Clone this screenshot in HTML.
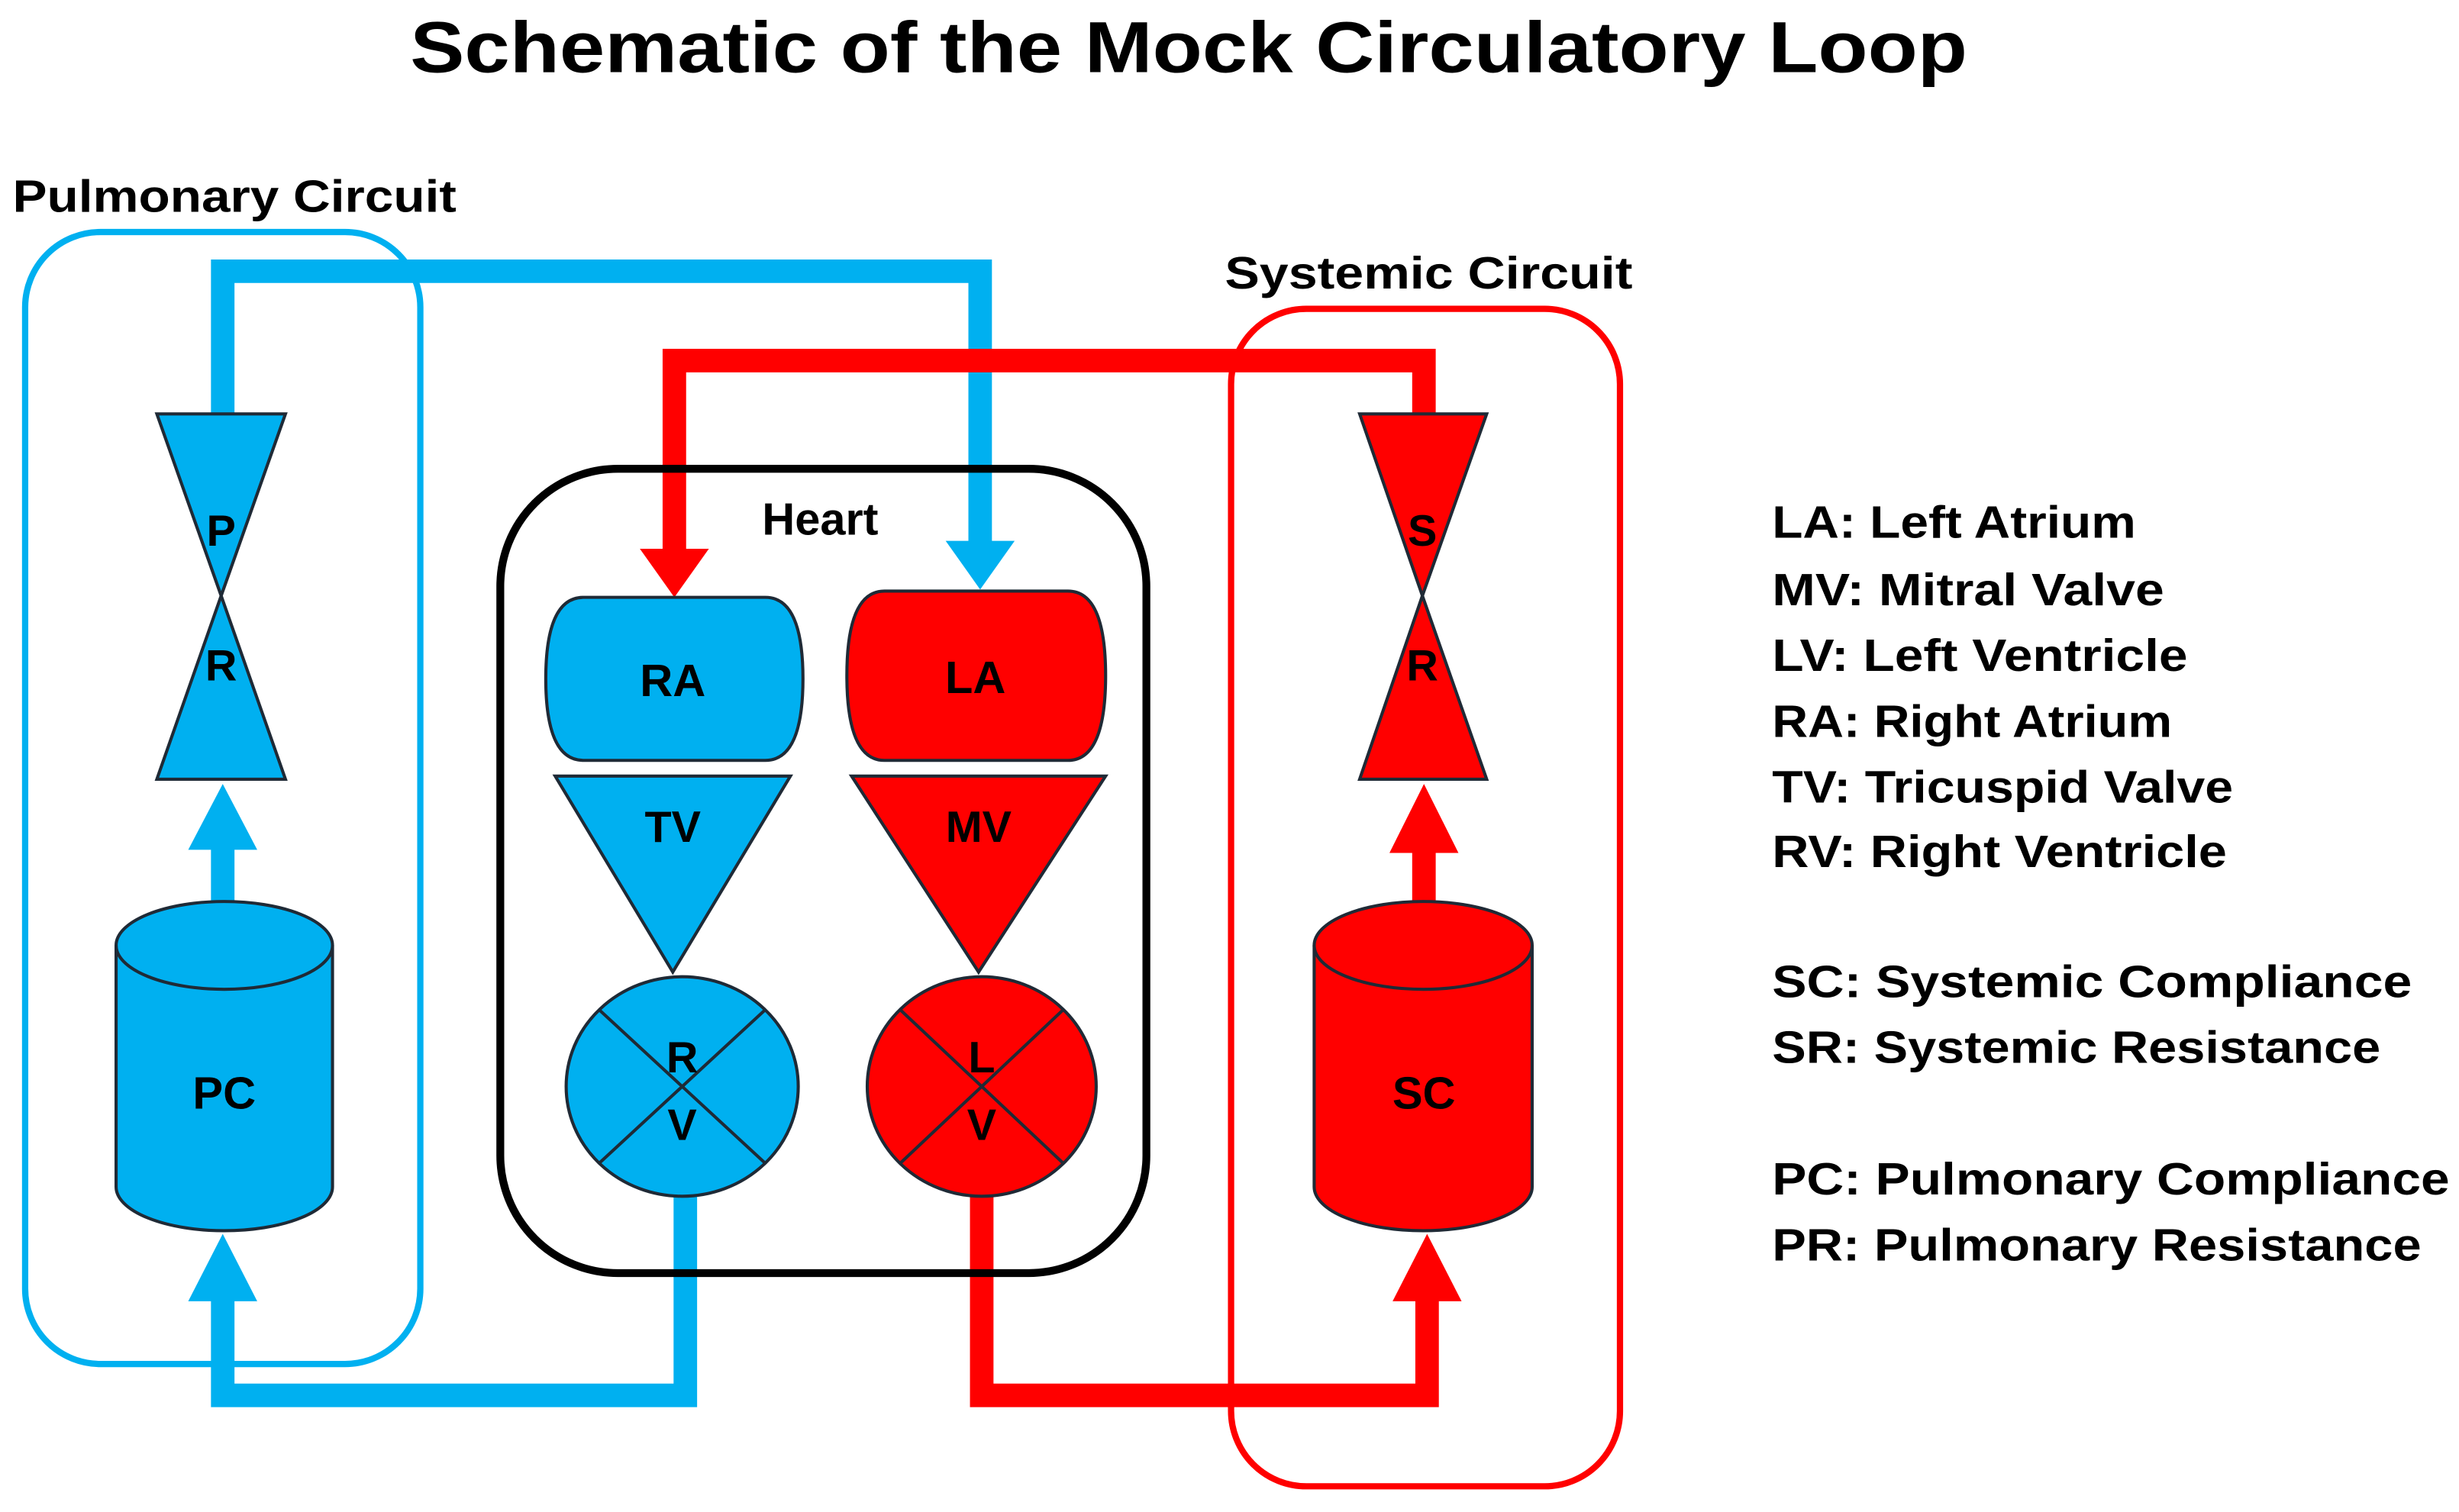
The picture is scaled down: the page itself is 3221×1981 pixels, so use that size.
<!DOCTYPE html>
<html><head><meta charset="utf-8"><style>
html,body{margin:0;padding:0;background:#fff;}
svg{display:block;}
text{font-family:"Liberation Sans","DejaVu Sans",sans-serif;font-weight:bold;fill:#000;}
</style></head><body>
<svg xmlns="http://www.w3.org/2000/svg" width="3221" height="1981" viewBox="0 0 1568 964.4">
<rect width="1568" height="964.4" fill="#fff"/>
<!-- Title -->
<text x="758" y="46" font-size="46" text-anchor="middle" textLength="993" lengthAdjust="spacingAndGlyphs">Schematic of the Mock Circulatory Loop</text>
<text x="8" y="135" font-size="29" textLength="283" lengthAdjust="spacingAndGlyphs">Pulmonary Circuit</text>
<text x="911" y="184" font-size="29" text-anchor="middle" textLength="260" lengthAdjust="spacingAndGlyphs">Systemic Circuit</text>

<!-- circuit boxes -->
<rect x="16" y="148" width="252" height="722" rx="48" fill="none" stroke="#00b0f0" stroke-width="4"/>
<rect x="785" y="197" width="248" height="751" rx="48" fill="none" stroke="#ff0000" stroke-width="4"/>

<!-- blue pipes -->
<polyline points="142,264 142,173 625,173 625,346" fill="none" stroke="#00b0f0" stroke-width="15"/>
<polygon points="603,345 647,345 625,376" fill="#00b0f0"/>
<polyline points="437,762 437,890 142,890 142,828" fill="none" stroke="#00b0f0" stroke-width="15"/>
<polygon points="120,830 164,830 142,787" fill="#00b0f0"/>
<line x1="142" y1="576" x2="142" y2="540" stroke="#00b0f0" stroke-width="15"/>
<polygon points="120,542 164,542 142,500" fill="#00b0f0"/>

<!-- red pipes -->
<polyline points="908,264 908,230 430,230 430,352" fill="none" stroke="#ff0000" stroke-width="15"/>
<polygon points="408,350 452,350 430,381" fill="#ff0000"/>
<polyline points="626,762 626,890 910,890 910,828" fill="none" stroke="#ff0000" stroke-width="15"/>
<polygon points="888,830 932,830 910,787" fill="#ff0000"/>
<line x1="908" y1="576" x2="908" y2="542" stroke="#ff0000" stroke-width="15"/>
<polygon points="886,544 930,544 908,500" fill="#ff0000"/>

<!-- Heart box -->
<rect x="319" y="299" width="412" height="513" rx="75" fill="none" stroke="#000" stroke-width="5"/>
<text x="523" y="341" font-size="29" text-anchor="middle">Heart</text>

<!-- PR bowtie -->
<polygon points="100,264 182,264 141,380" fill="#00b0f0" stroke="#1f2a36" stroke-width="2"/>
<polygon points="100,497 182,497 141,380" fill="#00b0f0" stroke="#1f2a36" stroke-width="2"/>
<text x="141" y="348" font-size="28" text-anchor="middle">P</text>
<text x="141" y="434" font-size="28" text-anchor="middle">R</text>

<!-- SR bowtie -->
<polygon points="867,264 948,264 907,380" fill="#ff0000" stroke="#1f2a36" stroke-width="2"/>
<polygon points="867,497 948,497 907,380" fill="#ff0000" stroke="#1f2a36" stroke-width="2"/>
<text x="907" y="348" font-size="28" text-anchor="middle">S</text>
<text x="907" y="434" font-size="28" text-anchor="middle">R</text>

<!-- PC cylinder -->
<path d="M74,603 V757 A69,28 0 0 0 212,757 V603 A69,28 0 0 0 74,603 Z" fill="#00b0f0" stroke="#1f2a36" stroke-width="2"/>
<path d="M74,603 A69,28 0 0 0 212,603" fill="none" stroke="#1f2a36" stroke-width="2"/>
<text x="143" y="707" font-size="29" text-anchor="middle">PC</text>

<!-- SC cylinder -->
<path d="M838,603 V757 A69.5,28 0 0 0 977,757 V603 A69.5,28 0 0 0 838,603 Z" fill="#ff0000" stroke="#1f2a36" stroke-width="2"/>
<path d="M838,603 A69.5,28 0 0 0 977,603" fill="none" stroke="#1f2a36" stroke-width="2"/>
<text x="908" y="707" font-size="29" text-anchor="middle">SC</text>

<!-- RA / LA -->
<path d="M372,381 H488 Q512,381 512,433 Q512,485 488,485 H372 Q348,485 348,433 Q348,381 372,381 Z" fill="#00b0f0" stroke="#1f2a36" stroke-width="2"/>
<text x="429" y="444" font-size="29" text-anchor="middle">RA</text>
<path d="M564,377 H681 Q705,377 705,431 Q705,485 681,485 H564 Q540,485 540,431 Q540,377 564,377 Z" fill="#ff0000" stroke="#1f2a36" stroke-width="2"/>
<text x="622" y="442" font-size="29" text-anchor="middle">LA</text>

<!-- TV / MV -->
<polygon points="354,495 504,495 429,620" fill="#00b0f0" stroke="#1f2a36" stroke-width="2"/>
<text x="429" y="537" font-size="28" text-anchor="middle">TV</text>
<polygon points="543,495 705,495 624,620" fill="#ff0000" stroke="#1f2a36" stroke-width="2"/>
<text x="624" y="537" font-size="28" text-anchor="middle">MV</text>

<!-- RV / LV -->
<ellipse cx="435" cy="693" rx="74" ry="70" fill="#00b0f0" stroke="#1f2a36" stroke-width="2"/>
<line x1="382" y1="644" x2="488" y2="742" stroke="#1f2a36" stroke-width="2"/>
<line x1="488" y1="644" x2="382" y2="742" stroke="#1f2a36" stroke-width="2"/>
<text x="435" y="684" font-size="28" text-anchor="middle">R</text>
<text x="435" y="727" font-size="28" text-anchor="middle">V</text>
<ellipse cx="626" cy="693" rx="73" ry="70" fill="#ff0000" stroke="#1f2a36" stroke-width="2"/>
<line x1="574" y1="644" x2="678" y2="742" stroke="#1f2a36" stroke-width="2"/>
<line x1="678" y1="644" x2="574" y2="742" stroke="#1f2a36" stroke-width="2"/>
<text x="626" y="684" font-size="28" text-anchor="middle">L</text>
<text x="626" y="727" font-size="28" text-anchor="middle">V</text>

<!-- Legend -->
<g font-size="29">
<text x="1130" y="343" textLength="232" lengthAdjust="spacingAndGlyphs">LA: Left Atrium</text>
<text x="1130" y="386" textLength="250" lengthAdjust="spacingAndGlyphs">MV: Mitral Valve</text>
<text x="1130" y="428" textLength="265" lengthAdjust="spacingAndGlyphs">LV: Left Ventricle</text>
<text x="1130" y="470" textLength="255" lengthAdjust="spacingAndGlyphs">RA: Right Atrium</text>
<text x="1130" y="512" textLength="294" lengthAdjust="spacingAndGlyphs">TV: Tricuspid Valve</text>
<text x="1130" y="553" textLength="290" lengthAdjust="spacingAndGlyphs">RV: Right Ventricle</text>
<text x="1130" y="636" textLength="408" lengthAdjust="spacingAndGlyphs">SC: Systemic Compliance</text>
<text x="1130" y="678" textLength="388" lengthAdjust="spacingAndGlyphs">SR: Systemic Resistance</text>
<text x="1130" y="762" textLength="432" lengthAdjust="spacingAndGlyphs">PC: Pulmonary Compliance</text>
<text x="1130" y="804" textLength="414" lengthAdjust="spacingAndGlyphs">PR: Pulmonary Resistance</text>
</g>
</svg>
</body></html>
